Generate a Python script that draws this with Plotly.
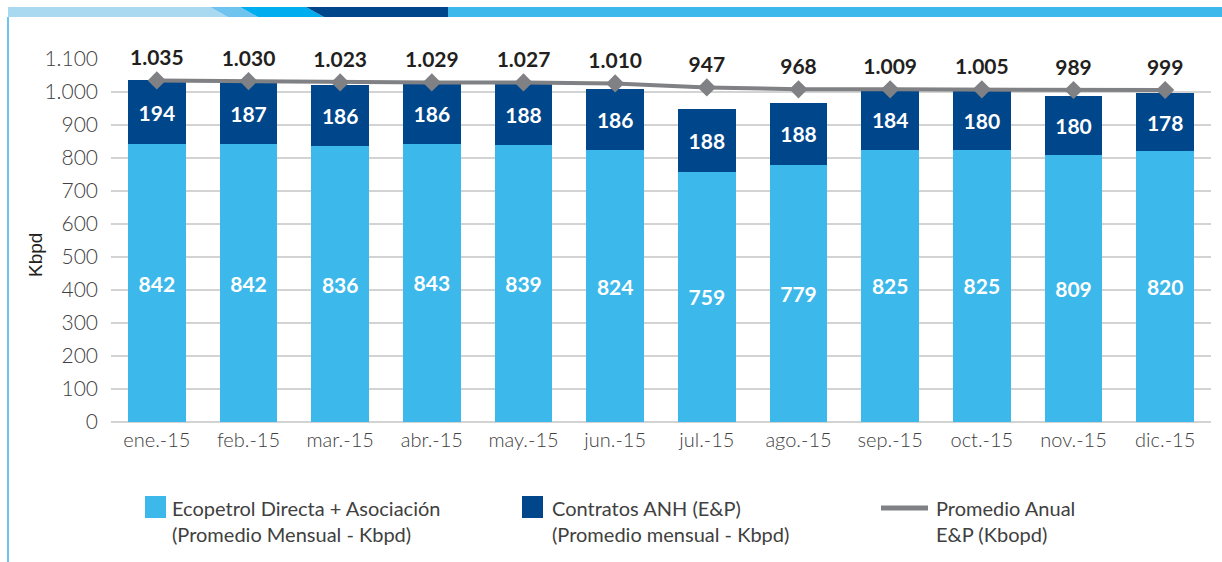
import plotly.graph_objects as go

months = ["ene.-15", "feb.-15", "mar.-15", "abr.-15", "may.-15", "jun.-15",
          "jul.-15", "ago.-15", "sep.-15", "oct.-15", "nov.-15", "dic.-15"]
ecopetrol = [842, 842, 836, 843, 839, 824, 759, 779, 825, 825, 809, 820]
anh = [194, 187, 186, 186, 188, 186, 188, 188, 184, 180, 180, 178]
totals = [1035, 1030, 1023, 1029, 1027, 1010, 947, 968, 1009, 1005, 989, 999]
promedio = [1035, 1033, 1029, 1029, 1029, 1026, 1014, 1008, 1008, 1008, 1006, 1006]

LIGHT = "#3DB8EA"
DARK = "#00468B"
GRAY = "#808184"

W, H = 1222, 562
L, R, T, B = 111, 11, 59, 140
PW, PH = W - L - R, H - T - B


def px(x):
    return (x - L) / PW


def py(y):
    return (H - B - y) / PH


fig = go.Figure()
fig.add_trace(go.Bar(
    x=months, y=ecopetrol, marker_color=LIGHT, marker_line_width=0,
    text=ecopetrol, texttemplate="%{text}", textposition="inside",
    insidetextanchor="middle", textangle=0,
    textfont=dict(family="Lato", size=21, color="white", weight="bold"),
    name="Ecopetrol", showlegend=False))
fig.add_trace(go.Bar(
    x=months, y=anh, marker_color=DARK, marker_line_width=0,
    text=anh, texttemplate="%{text}", textposition="inside",
    insidetextanchor="middle", textangle=0,
    textfont=dict(family="Lato", size=21, color="white", weight="bold"),
    name="ANH", showlegend=False))
fig.add_trace(go.Scatter(
    x=months, y=promedio, mode="lines+markers+text",
    line=dict(color=GRAY, width=4),
    marker=dict(symbol="diamond", size=14, color=GRAY),
    text=totals, texttemplate="%{text:,.0f}", textposition="top center",
    textfont=dict(family="Lato", size=21, color="#231F20", weight="bold"),
    cliponaxis=False, showlegend=False, name="Promedio"))

shapes = []
annotations = []

# top decorative band
band_y0, band_y1 = py(17), py(7)
poly = [
    ([8, 210, 228, 8], "#A9D8F1"),
    ([210, 240, 258, 228], "#6EC4EE"),
    ([240, 306, 324, 258], "#00AEEF"),
    ([306, 448, 448, 324], "#00468B"),
]
for xs, col in poly:
    path = "M {} {} L {} {} L {} {} L {} {} Z".format(
        px(xs[0]), band_y1, px(xs[1]), band_y1, px(xs[2]), band_y0, px(xs[3]), band_y0)
    shapes.append(dict(type="path", xref="paper", yref="paper", path=path,
                       fillcolor=col, line_width=0, layer="above"))
shapes.append(dict(type="rect", xref="paper", yref="paper", x0=px(448), x1=px(1222),
                   y0=band_y0, y1=band_y1, fillcolor="#3DB8EA", line_width=0))
# left border line
shapes.append(dict(type="line", xref="paper", yref="paper", x0=px(8), x1=px(8),
                   y0=py(562), y1=py(17), line=dict(color="#6EC4EE", width=2)))

# legend
legend_font = dict(family="Lato", size=20, color="#404040")
items = [
    (145, LIGHT, "Ecopetrol Directa + Asociación<br>(Promedio Mensual - Kbpd)", 170),
    (522, DARK, "Contratos ANH (E&P)<br>(Promedio mensual - Kbpd)", 550),
]
for x0, col, txt, tx in items:
    shapes.append(dict(type="rect", xref="paper", yref="paper",
                       x0=px(x0), x1=px(x0 + 21), y0=py(518), y1=py(496),
                       fillcolor=col, line_width=0))
    annotations.append(dict(xref="paper", yref="paper", x=px(tx), y=py(494),
                            xanchor="left", yanchor="top", align="left",
                            text=txt, showarrow=False, font=legend_font))
shapes.append(dict(type="line", xref="paper", yref="paper", x0=px(881), x1=px(928),
                   y0=py(508), y1=py(508), line=dict(color=GRAY, width=5)))
annotations.append(dict(xref="paper", yref="paper", x=px(934), y=py(494),
                        xanchor="left", yanchor="top", align="left",
                        text="Promedio Anual<br>E&P (Kbopd)", showarrow=False,
                        font=legend_font))
# y axis title
annotations.append(dict(xref="paper", yref="paper", x=px(35), y=py(255),
                        xanchor="center", yanchor="middle",
                        text="Kbpd", textangle=-90, showarrow=False,
                        font=dict(family="Liberation Sans", size=19, color="#231F20")))

fig.update_layout(
    width=W, height=H,
    margin=dict(l=L, r=R, t=T, b=B, autoexpand=False),
    paper_bgcolor="white", plot_bgcolor="white",
    barmode="stack", bargap=0.37,
    separators=",.",
    shapes=shapes, annotations=annotations,
    xaxis=dict(range=[-0.5, 11.5], autorange=False,
               tickfont=dict(family="Lato", size=20, color="#404040", weight=300),
               showgrid=False, ticks="", ticklabelstandoff=4),
    yaxis=dict(range=[0, 1100], dtick=100, tick0=0, separatethousands=True,
               tickformat=",d",
               tickfont=dict(family="Lato", size=21, color="#404040", weight=300),
               gridcolor="#D3D3D3", gridwidth=2, zeroline=True,
               zerolinecolor="#D3D3D3", zerolinewidth=2, ticks="",
               ticklabelstandoff=12),
)

fig.write_html("out.html", config={"displayModeBar": False},
               post_script="document.body.style.margin='0';")
